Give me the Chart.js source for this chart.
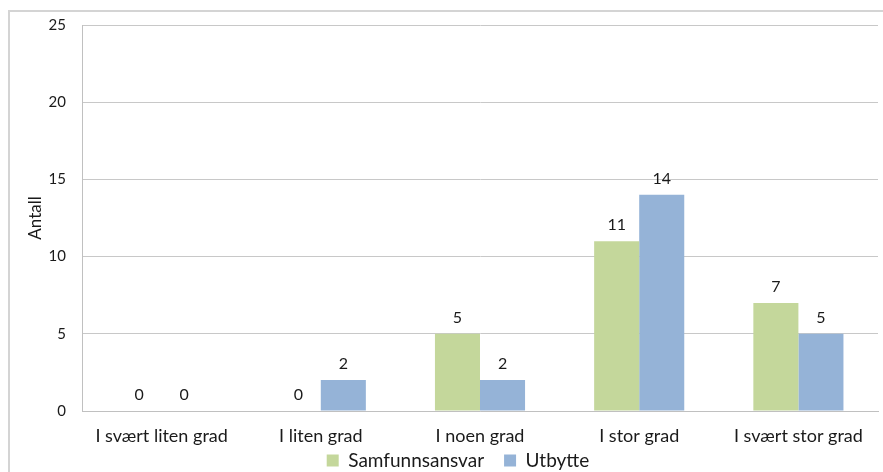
<!DOCTYPE html>
<html>
<head>
<meta charset="utf-8">
<script src="https://cdn.jsdelivr.net/npm/chart.js@4.4.1/dist/chart.umd.min.js"></script>
<style>
  html, body { margin: 0; padding: 0; background: #fff; overflow: hidden; }
  #wrap { position: relative; width: 883px; height: 472px; overflow: hidden; }
  #frame { position: absolute; left: 8px; top: 10px; width: 900px; height: 480px;
           border: 2px solid #d4d4d4; box-sizing: border-box; pointer-events: none; }
</style>
</head>
<body>
<div id="wrap">
  <canvas id="chart"></canvas>
  <div id="frame"></div>
</div>
<script>
// Categories and answer counts
const categories = ['I svært liten grad', 'I liten grad', 'I noen grad', 'I stor grad', 'I svært stor grad'];
const samfunnsansvar = [0, 0, 5, 11, 7];
const utbytte = [0, 2, 2, 14, 5];
const yTicks = [0, 5, 10, 15, 20, 25];

const FONT = 'Lato, "Open Sans", sans-serif';

// Write each bar's value above it
const valueLabels = {
    id: 'valueLabels',
    afterDatasetsDraw(chart) {
        const ctx = chart.ctx;
        ctx.save();
        ctx.font = '16px ' + FONT;
        ctx.fillStyle = '#1a1a1a';
        ctx.textAlign = 'center';
        ctx.textBaseline = 'middle';
        chart.data.datasets.forEach((ds, i) => {
            chart.getDatasetMeta(i).data.forEach((bar, j) => {
                ctx.fillText(ds.data[j], bar.x, bar.y - 16);
            });
        });
        ctx.restore();
    }
};

// Tuck the legend up under the category labels
const legendShift = {
    id: 'legendShift',
    afterLayout(chart) {
        const lg = chart.legend;
        const dx = 12, dy = -17;
        lg.left += dx; lg.right += dx;
        lg.top += dy; lg.bottom += dy;
    }
};

new Chart(document.getElementById('chart'), {
    type: 'bar',
    data: {
        labels: categories,
        datasets: [
            { label: 'Samfunnsansvar', data: samfunnsansvar, backgroundColor: '#c4d79b' },
            { label: 'Utbytte', data: utbytte, backgroundColor: '#95b3d7' }
        ]
    },
    plugins: [valueLabels, legendShift],
    options: {
        responsive: true,
        maintainAspectRatio: false,
        animation: false,
        layout: { padding: { left: 14, right: 5, top: 15, bottom: -25 } },
        datasets: { bar: { categoryPercentage: 0.566, barPercentage: 1.0 } },
        plugins: {
            legend: {
                position: 'bottom',
                labels: {
                    font: { family: FONT, size: 19 },
                    color: '#1a1a1a',
                    boxWidth: 12,
                    boxHeight: 12,
                    padding: 20
                }
            },
            tooltip: { enabled: false }
        },
        scales: {
            x: {
                grid: { display: false, drawTicks: false },
                border: { color: '#c0c0c0', width: 1 },
                ticks: { font: { family: FONT, size: 18 }, color: '#1a1a1a', padding: 14 },
                afterFit(scale) { scale.height = 37; }
            },
            y: {
                min: 0,
                max: 25,
                afterBuildTicks(scale) { scale.ticks = yTicks.map(v => ({ value: v })); },
                grid: { color: '#c8c8c8', drawTicks: false },
                border: { color: '#c0c0c0', width: 1 },
                ticks: { font: { family: FONT, size: 15 }, color: '#1a1a1a', padding: 16 },
                title: { display: true, text: 'Antall', font: { family: FONT, size: 17 }, color: '#1a1a1a', padding: { top: 11, bottom: 0 } },
                afterFit(scale) { scale.width = 68; }
            }
        }
    }
});
</script>
</body>
</html>
